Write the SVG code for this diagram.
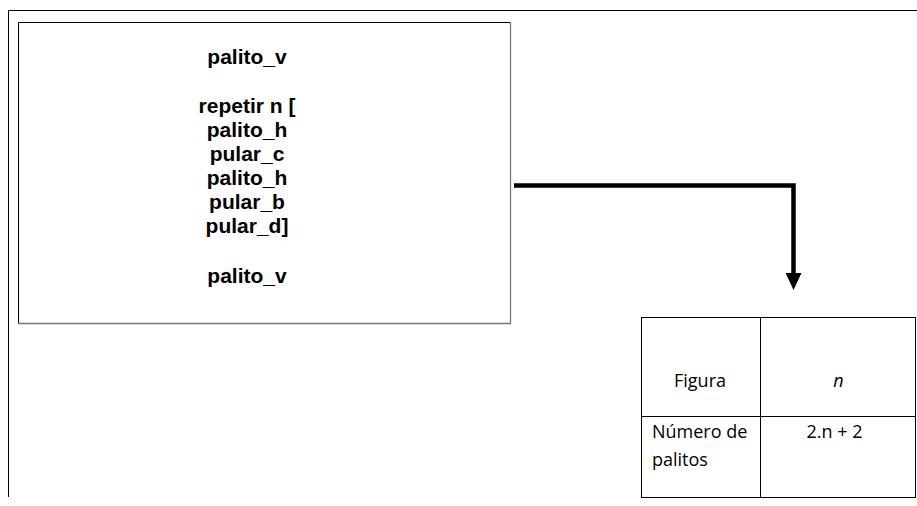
<svg xmlns="http://www.w3.org/2000/svg" width="917" height="506" viewBox="0 0 917 506">
<defs>
<style>
.code{font-family:"Liberation Sans",Arial,sans-serif;font-weight:bold;font-size:21px;fill:#000;text-anchor:middle}
.cell{font-family:"Open Sans","Noto Sans",sans-serif;font-size:18px;fill:#000}
.ln{stroke:#000;stroke-width:1;fill:none}
</style>
<marker id="ah" viewBox="0 0 16 17" markerWidth="16" markerHeight="17" refX="8" refY="0" orient="0" markerUnits="userSpaceOnUse">
<path d="M0,0 L16,0 L8,17 Z" fill="#000"/>
</marker>
</defs>
<rect width="917" height="506" fill="#fff"/>
<g id="frame">
<path class="ln" d="M8.5,497 V10.5 H917"/>
</g>
<g id="code-box">
<path d="M18.5,323.5 V22.5 H510.5" stroke="#000" stroke-width="1" fill="none"/>
<path d="M510.5,22.5 V323.5 H18.5" stroke="#777" stroke-width="1.3" fill="none"/>
<text class="code" x="247" y="64">palito_v</text>
<text class="code" x="247" y="113">repetir n [</text>
<text class="code" x="247" y="137">palito_h</text>
<text class="code" x="247" y="161">pular_c</text>
<text class="code" x="247" y="185">palito_h</text>
<text class="code" x="247" y="209">pular_b</text>
<text class="code" x="247" y="233">pular_d]</text>
<text class="code" x="247" y="283">palito_v</text>
</g>
<g id="connectors">
<path d="M514,185.5 H793.5 V273" stroke="#000" stroke-width="4.5" fill="none" marker-end="url(#ah)"/>
</g>
<g id="table">
<rect class="ln" x="641.5" y="317.5" width="274" height="180"/>
<line class="ln" x1="760.5" y1="317.5" x2="760.5" y2="497.5"/>
<line class="ln" x1="641.5" y1="416.5" x2="915.5" y2="416.5"/>
<text class="cell" x="700" y="387" text-anchor="middle">Figura</text>
<text class="cell" x="838.5" y="387" text-anchor="middle" font-style="italic">n</text>
<text class="cell" x="652" y="438">Número de</text>
<text class="cell" x="652" y="466">palitos</text>
<text class="cell" x="834.5" y="438" text-anchor="middle">2.n + 2</text>
</g>
</svg>
